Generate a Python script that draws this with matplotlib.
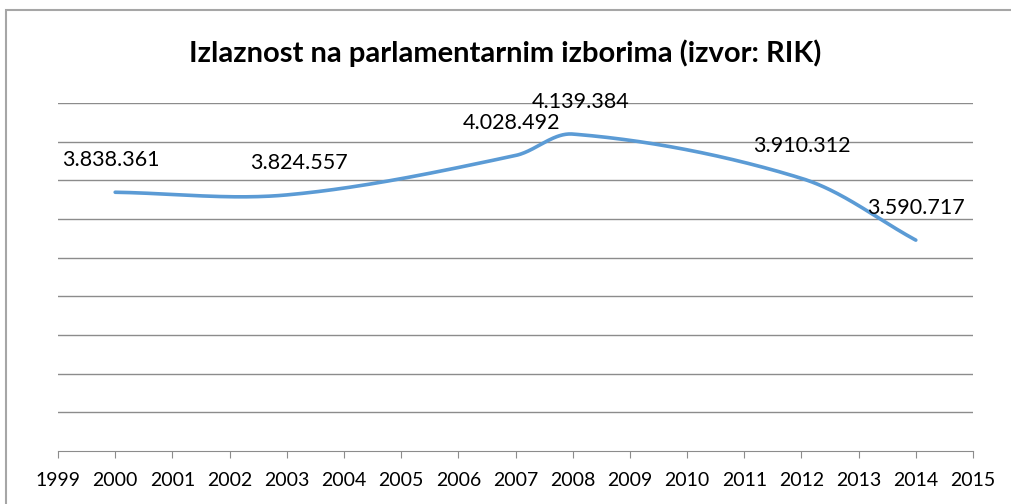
import numpy as np
import matplotlib
matplotlib.use('Agg')
import matplotlib.pyplot as plt
from matplotlib.patches import Rectangle

plt.rcParams['font.family'] = ['Lato', 'DejaVu Sans']

# election years and turnout (number of voters)
years = [2000, 2003, 2007, 2008, 2012, 2014]
turnout = [3838361, 3824557, 4028492, 4139384, 3910312, 3590717]
labels = ['3.838.361', '3.824.557', '4.028.492', '4.139.384', '3.910.312', '3.590.717']
label_dx = [-4, 12, -4, 8, 0, 0]
xticks = list(range(1999, 2016))
title = 'Izlaznost na parlamentarnim izborima (izvor: RIK)'


def excel_smooth(x, y, sx, sy, n=60):
    # bezier segments, control points from chord-length tangents (done in pixel space)
    P = np.column_stack([np.asarray(x, float) * sx, np.asarray(y, float) * sy])
    d = np.linalg.norm(np.diff(P, axis=0), axis=1)
    tang = np.zeros_like(P)
    for i in range(len(P)):
        if i == 0:
            tang[i] = (P[1] - P[0]) / d[0]
        elif i == len(P) - 1:
            tang[i] = (P[-1] - P[-2]) / d[-1]
        else:
            tang[i] = (P[i + 1] - P[i - 1]) / (d[i - 1] + d[i])
    t = np.linspace(0, 1, n)[:, None]
    pts = []
    for i in range(len(P) - 1):
        p0, p3 = P[i], P[i + 1]
        p1 = p0 + tang[i] * d[i] / 3
        p2 = p3 - tang[i + 1] * d[i] / 3
        b = (1 - t) ** 3 * p0 + 3 * (1 - t) ** 2 * t * p1 + 3 * (1 - t) * t ** 2 * p2 + t ** 3 * p3
        pts.append(b)
    pts = np.vstack(pts)
    return pts[:, 0] / sx, pts[:, 1] / sy


fig = plt.figure(figsize=(10.11, 5.04), dpi=100)
fig.patches.append(Rectangle((6 / 1011, -0.1), 1.2, (504 - 10) / 504 + 0.1,
                             transform=fig.transFigure, fill=False,
                             edgecolor='#a6a6a6', linewidth=1.5))

ax = fig.add_axes([58 / 1011, 53 / 504, 915 / 1011, 348 / 504])
ax.set_xlim(1999, 2015)
ax.set_ylim(2500000, 4300000)
ax.set_yticks(np.arange(2700000, 4300001, 200000))
ax.yaxis.grid(True, color='#8c8c8c', linewidth=1)
ax.set_axisbelow(True)
ax.tick_params(axis='y', left=False, labelleft=False)
for s in ['top', 'right', 'left']:
    ax.spines[s].set_visible(False)
ax.spines['bottom'].set_color('#8c8c8c')
ax.set_xticks(xticks)
ax.set_xticklabels([str(y) for y in xticks])
ax.tick_params(axis='x', length=5, color='#8c8c8c', labelsize=14, pad=10)

# pixels per year / per voter, so the smoothing follows the drawn shape
sx, sy = excel_smooth(years, turnout, 915 / 16, 348 / 1800000)
ax.plot(sx, sy, color='#5b9bd5', linewidth=2.6, solid_capstyle='round')

for x, y, lab, dx in zip(years, turnout, labels, label_dx):
    ax.annotate(lab, (x, y), xytext=(dx, 32), textcoords='offset pixels',
                ha='center', va='center', fontsize=15.5)

fig.text(505 / 1011, 1 - 53 / 504, title, ha='center', va='center',
         fontsize=21, fontweight='bold')

fig.savefig('out.png', dpi=100)
